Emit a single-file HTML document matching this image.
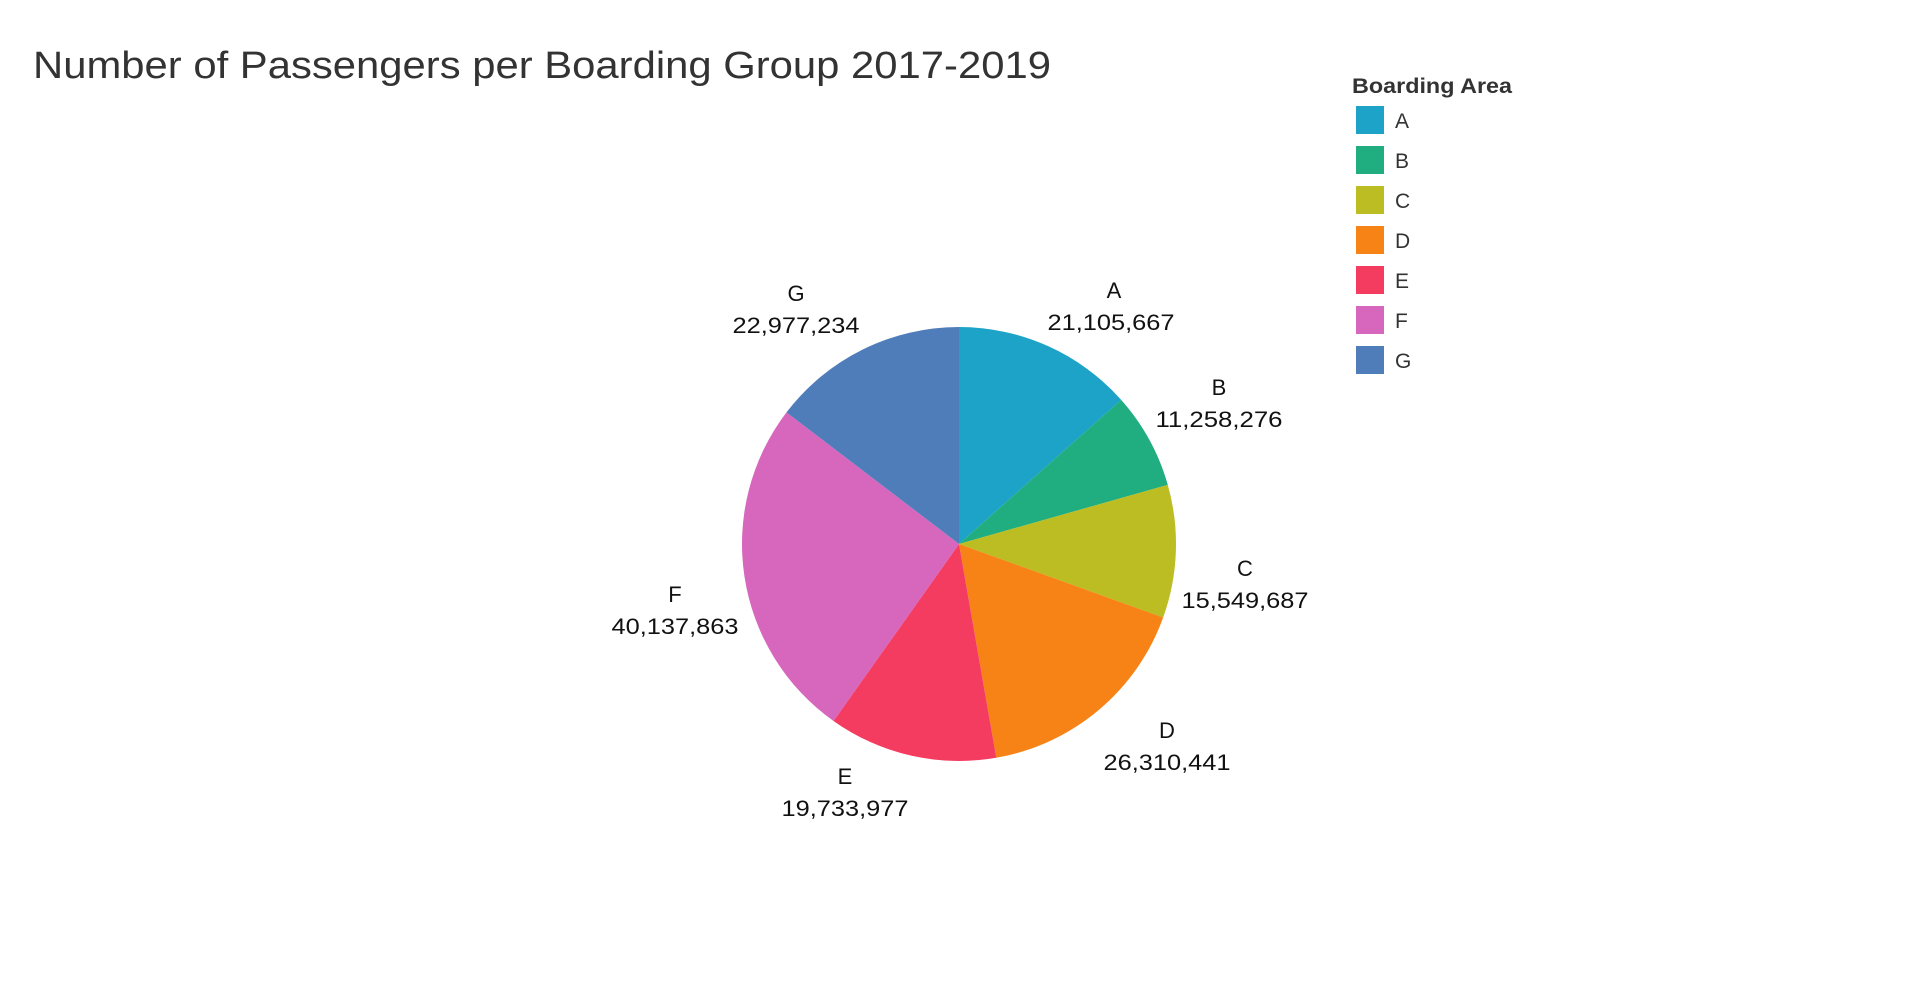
<!DOCTYPE html>
<html><head><meta charset="utf-8"><style>
html,body{margin:0;padding:0;background:#fff;}
svg{display:block;font-family:"Liberation Sans",sans-serif;}
</style></head><body>
<svg width="1920" height="1000" viewBox="0 0 1920 1000" xmlns="http://www.w3.org/2000/svg">
<text x="33" y="78" font-size="38" fill="#333" textLength="1018" lengthAdjust="spacingAndGlyphs">Number of Passengers per Boarding Group 2017-2019</text>
<g id="pie"></g>
<g font-size="22" fill="#111" text-anchor="middle">
<text x="1114" y="298">A</text><text x="1111" y="330" textLength="127" lengthAdjust="spacingAndGlyphs">21,105,667</text>
<text x="1219" y="395">B</text><text x="1219" y="427" textLength="127" lengthAdjust="spacingAndGlyphs">11,258,276</text>
<text x="1245" y="576">C</text><text x="1245" y="608" textLength="127" lengthAdjust="spacingAndGlyphs">15,549,687</text>
<text x="1167" y="738">D</text><text x="1167" y="770" textLength="127" lengthAdjust="spacingAndGlyphs">26,310,441</text>
<text x="845" y="784">E</text><text x="845" y="816" textLength="127" lengthAdjust="spacingAndGlyphs">19,733,977</text>
<text x="675" y="602">F</text><text x="675" y="634" textLength="127" lengthAdjust="spacingAndGlyphs">40,137,863</text>
<text x="796" y="301">G</text><text x="796" y="333" textLength="127" lengthAdjust="spacingAndGlyphs">22,977,234</text>
</g>
<text x="1352" y="93" font-size="21" font-weight="bold" fill="#333" textLength="160" lengthAdjust="spacingAndGlyphs">Boarding Area</text>
<g font-size="21" fill="#333">
<rect x="1356" y="106" width="28" height="28" fill="#1ca3c7"/><text x="1395" y="128">A</text>
<rect x="1356" y="146" width="28" height="28" fill="#20ad7f"/><text x="1395" y="168">B</text>
<rect x="1356" y="186" width="28" height="28" fill="#bcbd22"/><text x="1395" y="208">C</text>
<rect x="1356" y="226" width="28" height="28" fill="#f78215"/><text x="1395" y="248">D</text>
<rect x="1356" y="266" width="28" height="28" fill="#f43c61"/><text x="1395" y="288">E</text>
<rect x="1356" y="306" width="28" height="28" fill="#d767bd"/><text x="1395" y="328">F</text>
<rect x="1356" y="346" width="28" height="28" fill="#4f7dba"/><text x="1395" y="368">G</text>
</g>
</svg>
<script>
(function(){
var v=[21105667,11258276,15549687,26310441,19733977,40137863,22977234];
var c=["#1ca3c7","#20ad7f","#bcbd22","#f78215","#f43c61","#d767bd","#4f7dba"];
var t=v.reduce(function(a,b){return a+b},0),cx=959,cy=544,r=217,a=0,s="";
for(var i=0;i<v.length;i++){
var a0=a,a1=a+v[i]/t*2*Math.PI;a=a1;
var x0=cx+r*Math.sin(a0),y0=cy-r*Math.cos(a0),x1=cx+r*Math.sin(a1),y1=cy-r*Math.cos(a1);
var large=(a1-a0)>Math.PI?1:0;
s+='<path d="M'+cx+','+cy+' L'+x0.toFixed(2)+','+y0.toFixed(2)+' A'+r+','+r+' 0 '+large+' 1 '+x1.toFixed(2)+','+y1.toFixed(2)+' Z" fill="'+c[i]+'"/>';
}
document.getElementById("pie").innerHTML=s;
})();
</script>
</body></html>
